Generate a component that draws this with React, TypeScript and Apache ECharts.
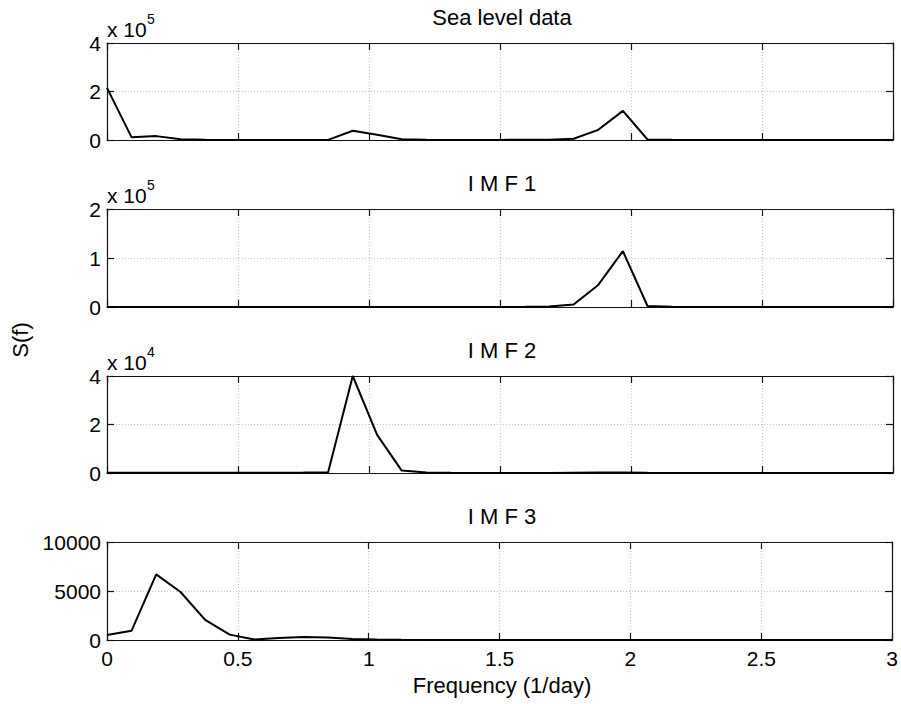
import React, { useEffect, useRef } from "react";
import * as echarts from "echarts";

// Frequency axis (1/day)
const frequencies = [
  0, 0.094, 0.188, 0.281, 0.375, 0.469, 0.563, 0.656, 0.75, 0.844, 0.938,
  1.031, 1.125, 1.219, 1.313, 1.406, 1.5, 1.594, 1.688, 1.781, 1.875, 1.969,
  2.063, 2.156, 2.25, 2.344, 2.438, 2.531, 2.625, 2.719, 2.813, 2.906, 3.0,
];

// Spectra S(f)
const seaLevel = [
  215000, 11000, 16000, 3000, 800, 300, 200, 200, 300, 500, 38000, 22000, 3000,
  1000, 500, 300, 400, 800, 1500, 5000, 42000, 120000, 2000, 800, 300, 200,
  200, 100, 100, 100, 100, 100, 100,
];
const imf1 = [
  0, 0, 0, 0, 0, 0, 0, 0, 0, 0, 100, 100, 100, 100, 100, 100, 150, 300, 1000,
  5000, 45000, 114000, 2000, 600, 200, 100, 100, 100, 100, 100, 100, 100, 100,
];
const imf2 = [
  150, 150, 150, 150, 150, 150, 150, 150, 200, 300, 40000, 15700, 1000, 200,
  100, 50, 50, 50, 50, 150, 200, 200, 100, 50, 50, 50, 50, 50, 50, 50, 50, 50,
  50,
];
const imf3 = [
  500, 950, 6700, 4900, 2050, 550, 60, 200, 300, 250, 100, 40, 20, 10, 10, 10,
  10, 10, 10, 10, 10, 10, 10, 10, 10, 10, 10, 10, 10, 10, 10, 10, 10,
];

const panelTitles = ["Sea level data", "I M F 1", "I M F 2", "I M F 3"];
const panelSeries = [seaLevel, imf1, imf2, imf3];
const yMax = [400000, 200000, 40000, 10000];
const yStep = [200000, 100000, 20000, 5000];
const yScale = [1e5, 1e5, 1e4, 1];
const yScaleExp = ["5", "5", "4", ""];
const xTickLabels = ["0", "0.5", "1", "1.5", "2", "2.5", "3"];

const FONT = "Liberation Sans, Arial, Helvetica, sans-serif";
const gridTops = [43, 209, 376, 542];
const gridHeights = [97, 98, 97, 98];

export default function App() {
  const ref = useRef<HTMLDivElement>(null);

  useEffect(() => {
    if (!ref.current) return;
    const chart = echarts.init(ref.current, null, { renderer: "svg" });

    const grids: any[] = [];
    const xAxes: any[] = [];
    const yAxes: any[] = [];
    const series: any[] = [];
    const graphics: any[] = [];

    const boxLine = { color: "#111", width: 1.2 };
    const tickStyle = { color: "#111", width: 1.2 };
    const splitStyle = { color: "#c4c4c4", width: 1, type: [1, 2] };

    panelSeries.forEach((values, k) => {
      grids.push({
        left: 107,
        right: 8,
        top: gridTops[k],
        height: gridHeights[k],
        containLabel: false,
      });
      const last = k === panelSeries.length - 1;
      // bottom x axis
      xAxes.push({
        type: "value",
        gridIndex: k,
        position: "bottom",
        min: 0,
        max: 3,
        interval: 0.5,
        axisLine: { show: true, onZero: false, lineStyle: boxLine },
        axisTick: { show: true, inside: true, length: 7, lineStyle: tickStyle },
        axisLabel: {
          show: last,
          margin: 8,
          color: "#000",
          fontSize: 21,
          fontFamily: FONT,
          formatter: (v: number) => xTickLabels[Math.round(v / 0.5)] ?? "",
        },
        splitLine: { show: true, lineStyle: splitStyle },
      });
      // top x axis (box edge)
      xAxes.push({
        type: "value",
        gridIndex: k,
        position: "top",
        min: 0,
        max: 3,
        interval: 0.5,
        axisLine: { show: true, onZero: false, lineStyle: boxLine },
        axisTick: { show: true, inside: true, length: 7, lineStyle: tickStyle },
        axisLabel: { show: false },
        splitLine: { show: false },
      });
      const scale = yScale[k];
      yAxes.push({
        type: "value",
        gridIndex: k,
        position: "left",
        min: 0,
        max: yMax[k],
        interval: yStep[k],
        axisLine: { show: true, onZero: false, lineStyle: boxLine },
        axisTick: { show: true, inside: true, length: 7, lineStyle: tickStyle },
        axisLabel: {
          show: true,
          margin: 6,
          color: "#000",
          fontSize: 21,
          fontFamily: FONT,
          formatter: (v: number) => String(Math.round(v / scale)),
        },
        splitLine: { show: true, lineStyle: splitStyle },
      });
      yAxes.push({
        type: "value",
        gridIndex: k,
        position: "right",
        min: 0,
        max: yMax[k],
        interval: yStep[k],
        axisLine: { show: true, onZero: false, lineStyle: boxLine },
        axisTick: { show: true, inside: true, length: 7, lineStyle: tickStyle },
        axisLabel: { show: false },
        splitLine: { show: false },
      });

      series.push({
        type: "line",
        xAxisIndex: 2 * k,
        yAxisIndex: 2 * k,
        data: frequencies.map((f, i) => [f, values[i]]),
        symbol: "none",
        lineStyle: { color: "#000", width: 2 },
        clip: true,
      });

      graphics.push({
        type: "text",
        x: 502,
        y: gridTops[k] - 26,
        style: {
          text: panelTitles[k],
          font: `22px ${FONT}`,
          fill: "#000",
          textAlign: "center",
          textVerticalAlign: "middle",
        },
      });

      if (yScaleExp[k]) {
        graphics.push({
          type: "text",
          x: 107,
          y: gridTops[k] - 14,
          style: {
            text: "x 10",
            font: `21px ${FONT}`,
            fill: "#000",
            textAlign: "left",
            textVerticalAlign: "middle",
          },
        });
        graphics.push({
          type: "text",
          x: 147,
          y: gridTops[k] - 24,
          style: {
            text: yScaleExp[k],
            font: `14px ${FONT}`,
            fill: "#000",
            textAlign: "left",
            textVerticalAlign: "middle",
          },
        });
      }
    });

    graphics.push({
      type: "text",
      x: 502,
      y: 685,
      style: {
        text: "Frequency (1/day)",
        font: `22px ${FONT}`,
        fill: "#000",
        textAlign: "center",
        textVerticalAlign: "middle",
      },
    });
    graphics.push({
      type: "text",
      x: 20,
      y: 340,
      rotation: Math.PI / 2,
      style: {
        text: "S(f)",
        font: `22px ${FONT}`,
        fill: "#000",
        textAlign: "center",
        textVerticalAlign: "middle",
      },
    });

    chart.setOption({
      animation: false,
      backgroundColor: "#fff",
      grid: grids,
      xAxis: xAxes,
      yAxis: yAxes,
      series,
      graphic: graphics,
    });

    return () => chart.dispose();
  }, []);

  return (
    <div
      ref={ref}
      style={{ position: "fixed", left: 0, top: 0, width: 901, height: 704 }}
    />
  );
}
